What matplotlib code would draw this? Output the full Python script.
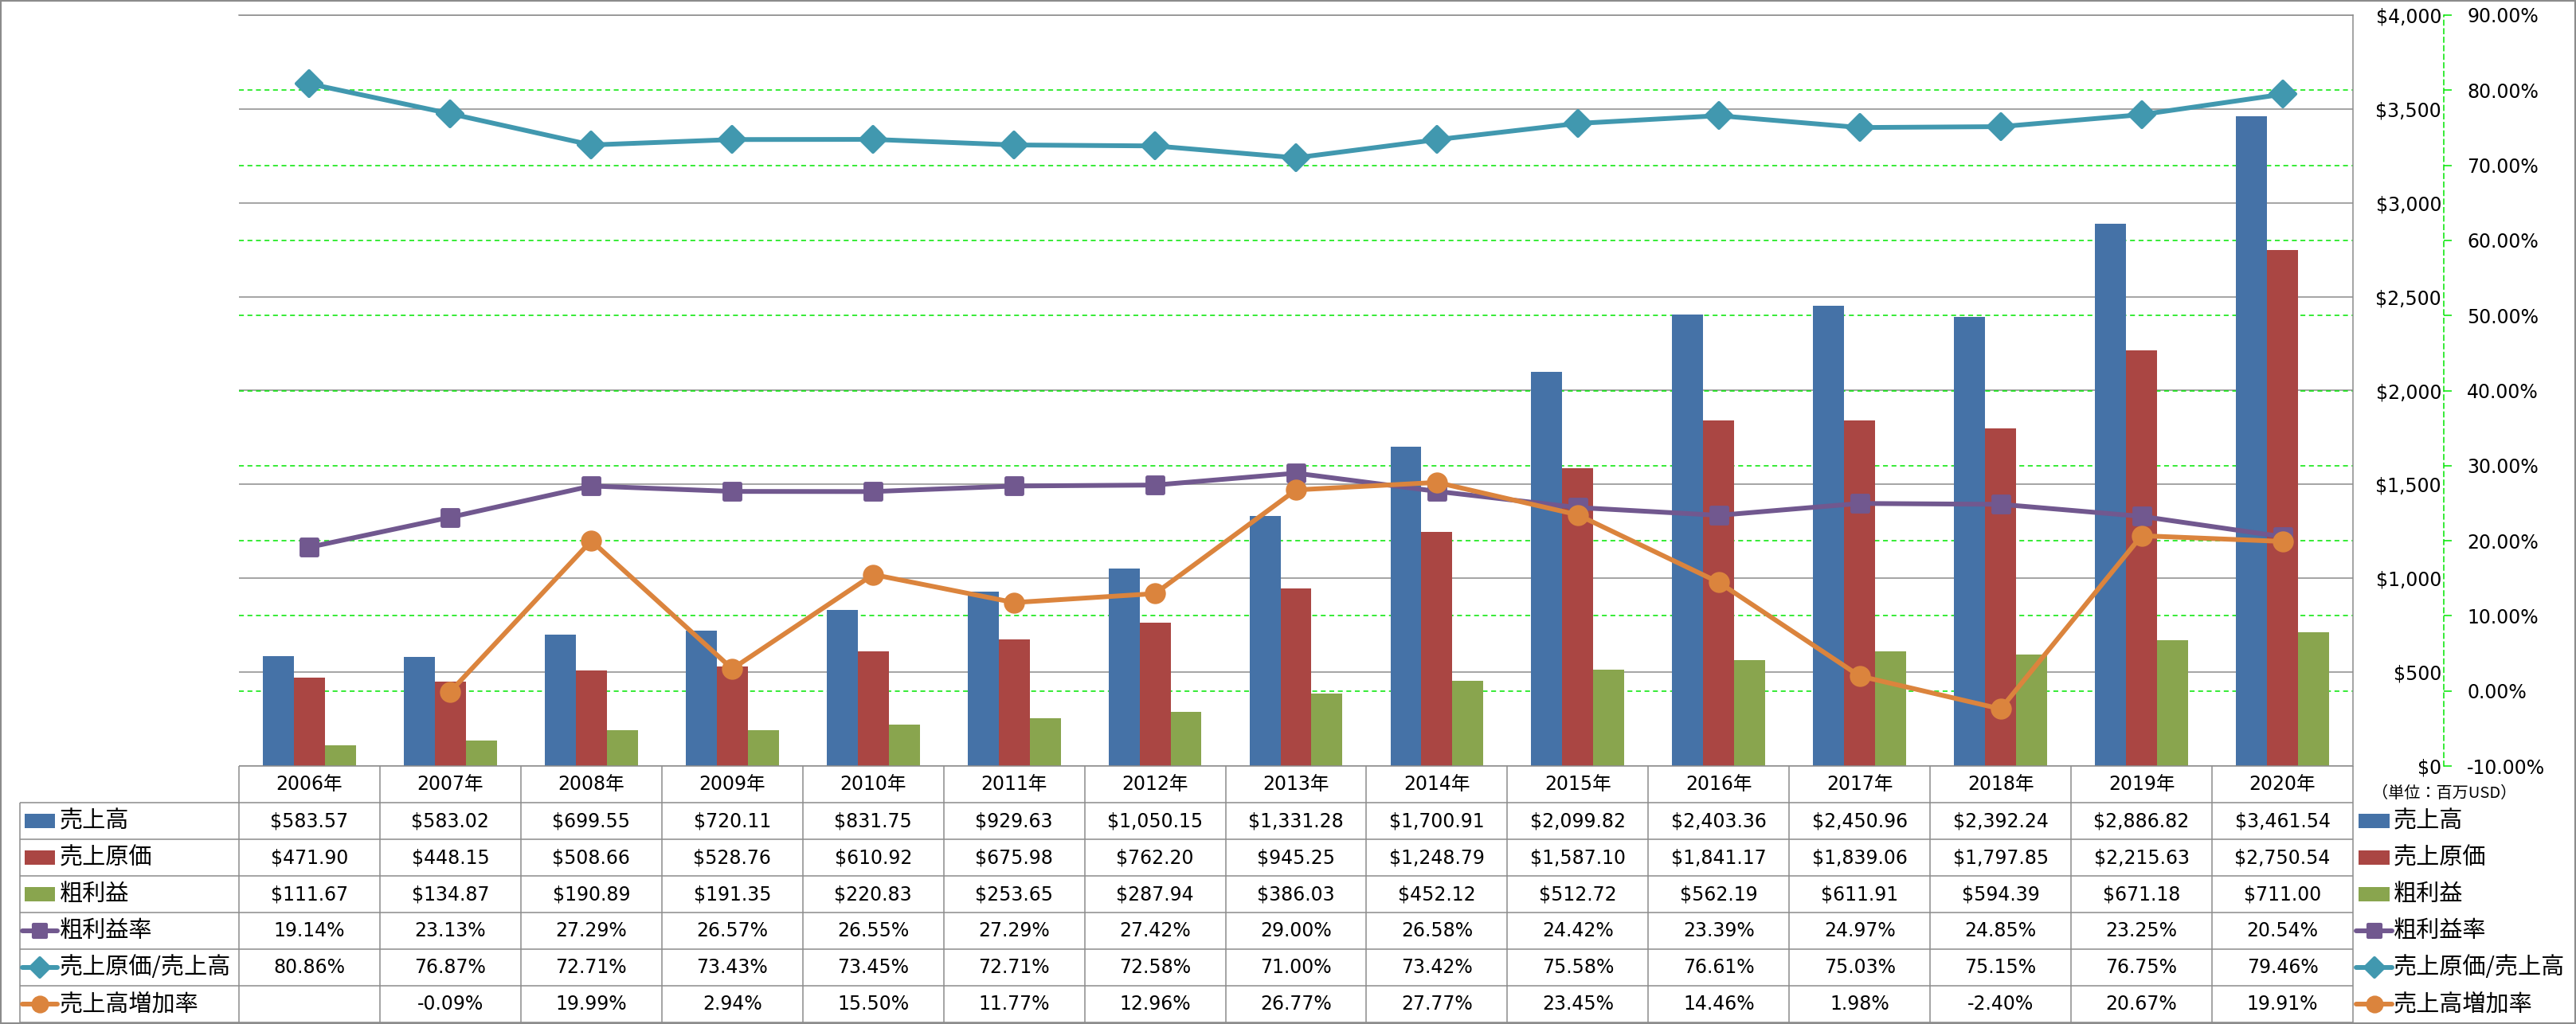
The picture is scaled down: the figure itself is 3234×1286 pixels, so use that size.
import numpy as np
import matplotlib
matplotlib.use("Agg")
import matplotlib.pyplot as plt
from matplotlib.markers import MarkerStyle
from matplotlib.patches import Rectangle
from matplotlib.lines import Line2D
from matplotlib.transforms import Affine2D, IdentityTransform, blended_transform_factory

plt.rcParams['font.family'] = ['DejaVu Sans', 'Noto Sans CJK JP']
JP = ['Noto Sans CJK JP', 'DejaVu Sans']

# data (百万USD / %)
years = ['2006年', '2007年', '2008年', '2009年', '2010年', '2011年', '2012年', '2013年',
         '2014年', '2015年', '2016年', '2017年', '2018年', '2019年', '2020年']
sales = [583.57, 583.02, 699.55, 720.11, 831.75, 929.63, 1050.15, 1331.28,
         1700.91, 2099.82, 2403.36, 2450.96, 2392.24, 2886.82, 3461.54]
cogs = [471.90, 448.15, 508.66, 528.76, 610.92, 675.98, 762.20, 945.25,
        1248.79, 1587.10, 1841.17, 1839.06, 1797.85, 2215.63, 2750.54]
gross = [111.67, 134.87, 190.89, 191.35, 220.83, 253.65, 287.94, 386.03,
         452.12, 512.72, 562.19, 611.91, 594.39, 671.18, 711.00]
gm_rate = [19.14, 23.13, 27.29, 26.57, 26.55, 27.29, 27.42, 29.00,
           26.58, 24.42, 23.39, 24.97, 24.85, 23.25, 20.54]
cost_ratio = [80.86, 76.87, 72.71, 73.43, 73.45, 72.71, 72.58, 71.00,
              73.42, 75.58, 76.61, 75.03, 75.15, 76.75, 79.46]
growth = [np.nan, -0.09, 19.99, 2.94, 15.50, 11.77, 12.96, 26.77,
          27.77, 23.45, 14.46, 1.98, -2.40, 20.67, 19.91]
names = ['売上高', '売上原価', '粗利益', '粗利益率', '売上原価/売上高', '売上高増加率']

usd_ticks = list(range(0, 4001, 500))
pct_ticks = list(range(-10, 91, 10))

BLUE, RED, GREEN = '#4572A7', '#AA4643', '#89A54E'
PURPLE, TEAL, ORANGE = '#71588F', '#4198AF', '#DB843D'
GRID = '#8C8C8C'
LIME = '#00E600'
DASH = (0, (4, 3))

W, H, DPI = 3234, 1286, 100
fig = plt.figure(figsize=(W / DPI, H / DPI), dpi=DPI)
px = Affine2D().scale(1, -1).translate(0, H)   # pixels from top-left


def box(l, t, r, b):
    return [l / W, 1 - b / H, (r - l) / W, (b - t) / H]


PL, PT, PR, PB = 300, 19, 2954, 962
ax = fig.add_axes(box(PL, PT, PR, PB))
ax2 = ax.twinx()

x = np.arange(len(years))
bw = 0.22
ax.bar(x - bw, sales, bw, color=BLUE, zorder=2)
ax.bar(x, cogs, bw, color=RED, zorder=2)
ax.bar(x + bw, gross, bw, color=GREEN, zorder=2)

# percent gridlines sit under the bars, so they live on the bar axes
blend = blended_transform_factory(ax.transAxes, ax2.transData)
for p in pct_ticks[1:-1]:
    ax.plot([0, 1], [p, p], transform=blend, color=LIME, lw=1.1, ls=DASH, zorder=1)

ax.grid(axis='y', color=GRID, lw=1.1)
ax.set_axisbelow(True)
ax.set_xticks([])
ax.set_yticks(usd_ticks, labels=[f'${v:,}' for v in usd_ticks])
ax.yaxis.tick_right()
ax.tick_params(axis='y', length=0, pad=80, labelsize=17)
for t in ax.get_yticklabels():
    t.set_ha('right')
for s in ['left', 'bottom']:
    ax.spines[s].set_visible(False)
for s in ['top', 'right']:
    ax.spines[s].set_color(GRID)
    ax.spines[s].set_linewidth(1.1)
ax.set_xlim(-0.5, len(years) - 0.5)
ax.set_ylim(0, 4000)

sq = MarkerStyle('s', joinstyle='round')
dia = MarkerStyle('D', joinstyle='round')
ax2.plot(x, gm_rate, color=PURPLE, lw=4.3, marker=sq, ms=15, mew=3.5, zorder=3)
ax2.plot(x, cost_ratio, color=TEAL, lw=4.3, marker=dia, ms=16, mew=3, zorder=4)
ax2.plot(x, growth, color=ORANGE, lw=4.3, marker='o', ms=17, mew=2, zorder=5)
ax2.set_ylim(-10, 90)
ax2.set_yticks(pct_ticks, labels=[f'{v:.2f}%' for v in pct_ticks])
ax2.tick_params(axis='y', direction='out', length=7, width=1.1, color=LIME,
                pad=14, labelsize=17)
ax2.get_yticklabels()[0].set_color('red')
for s in ['left', 'top', 'bottom']:
    ax2.spines[s].set_visible(False)
ax2.spines['right'].set_position(('outward', 82))
ax2.spines['right'].set_color(LIME)
ax2.spines['right'].set_linewidth(1.1)
ax2.spines['right'].set_linestyle(DASH)

fig.text(2978, 996, '（単位：百万USD）', transform=px, fontsize=14.5,
         family=JP, ha='left', va='center')

# data table
TL, TB = 25, 1284
n = len(years)
lab_w = (PL - TL) / ((PR - PL) / n)
tax = fig.add_axes(box(TL, PB, PR, TB))
tax.set_xlim(-0.5 - lab_w, n - 0.5)
tax.set_ylim(7, 0)
tax.axis('off')

tax.hlines(0, -0.5, n - 0.5, color=GRID, lw=1.1, clip_on=False)
tax.hlines(range(1, 8), -0.5 - lab_w, n - 0.5, color=GRID, lw=1.1, clip_on=False)
tax.vlines(np.arange(n + 1) - 0.5, 0, 7, color=GRID, lw=1.1, clip_on=False)
tax.vlines(-0.5 - lab_w, 1, 7, color=GRID, lw=1.1, clip_on=False)

for i, y in enumerate(years):
    tax.text(i, 0.5, y, ha='center', va='center', fontsize=17)

rows = [(sales, '${:,.2f}'), (cogs, '${:,.2f}'), (gross, '${:,.2f}'),
        (gm_rate, '{:.2f}%'), (cost_ratio, '{:.2f}%'), (growth, '{:.2f}%')]
for r, (vals, fmt) in enumerate(rows, start=1):
    for i, v in enumerate(vals):
        if not np.isnan(v):
            tax.text(i, r + 0.5, fmt.format(v), ha='center', va='center', fontsize=17)

# legend keys: left of table and right of chart
keyT = blended_transform_factory(IdentityTransform(), tax.transData)
bar_colors = [BLUE, RED, GREEN]
line_styles = [(PURPLE, sq, 12, 3), (TEAL, dia, 12, 3), (ORANGE, 'o', 14, 2)]


def draw_key(x0, x1, row, k):
    yc = row + 0.5
    if k < 3:
        fig.add_artist(Rectangle((x0 + 3, yc - 0.185), x1 - x0 - 6, 0.37,
                                 transform=keyT, color=bar_colors[k], lw=0))
    else:
        c, m, ms, mew = line_styles[k - 3]
        fig.add_artist(Line2D([x0, (x0 + x1) / 2, x1], [yc, yc, yc], transform=keyT,
                              color=c, lw=4.3, marker=m, ms=ms, mew=mew,
                              markevery=[1], solid_capstyle='round'))


for k, name in enumerate(names):
    draw_key(28, 72, k + 1, k)
    fig.text(75, k + 1.5, name, transform=keyT, fontsize=21, family=JP,
             ha='left', va='center')
    draw_key(2958, 3003, k + 1, k)
    fig.text(3005, k + 1.5, name, transform=keyT, fontsize=21, family=JP,
             ha='left', va='center')

fig.add_artist(Rectangle((0, 0), 1, 1, transform=fig.transFigure, fill=False,
                         ec='#8C8C8C', lw=3))

fig.savefig('out.png', dpi=DPI)
